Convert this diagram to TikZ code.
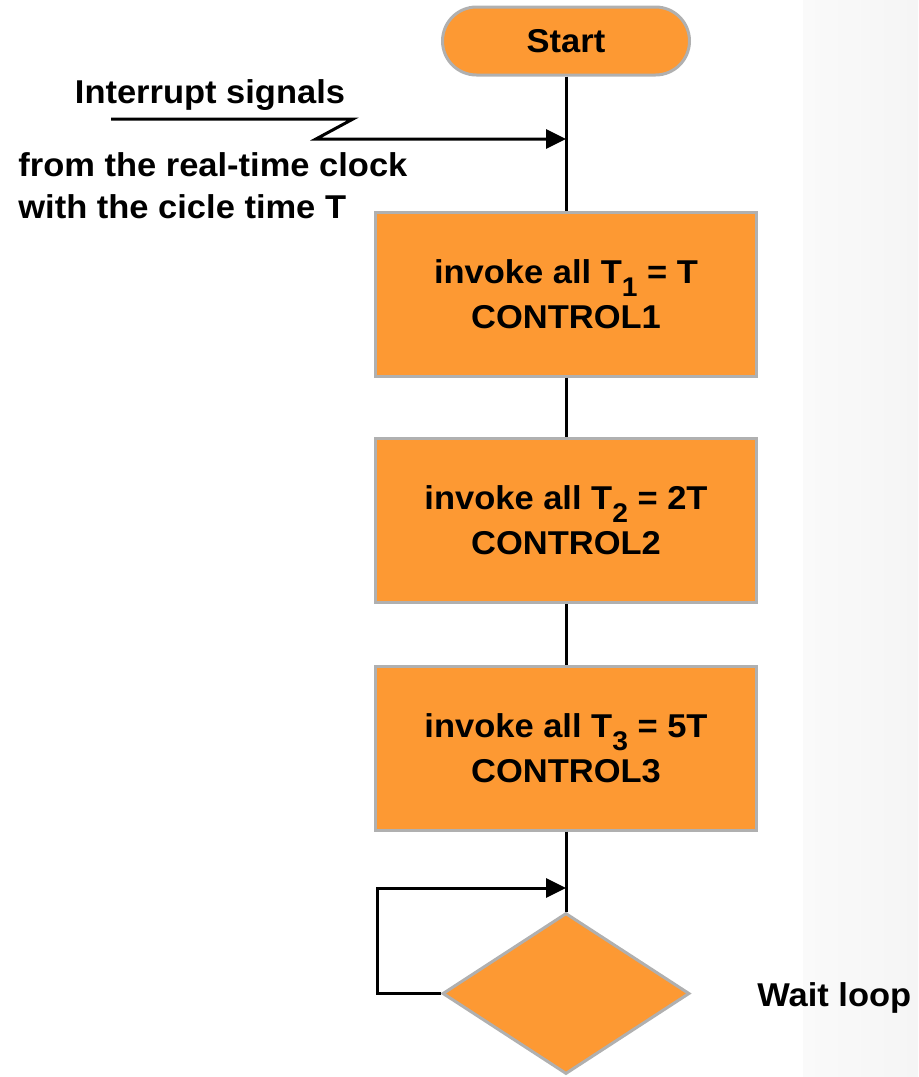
\documentclass[tikz,border=0pt]{standalone}
\usepackage{fontspec}
\setmainfont{Liberation Sans}[FakeStretch=1.045]
\usetikzlibrary{shapes.geometric,arrows.meta}
\definecolor{boxfill}{RGB}{253,153,51}
\definecolor{boxline}{RGB}{176,176,176}
\definecolor{stripleft}{RGB}{250,250,250}
\definecolor{stripright}{RGB}{245,245,245}
\newcommand{\lowsub}[1]{\raisebox{-6.5pt}{\fontsize{13.5}{13.5}\selectfont #1}}
\tikzset{
  txt/.style={font=\bfseries\fontsize{16.5}{21}\selectfont, inner sep=0pt},
  boxtxt/.style={font=\bfseries\fontsize{16.5}{22.5}\selectfont},
  terminal/.style={draw=boxline, line width=1.5pt, fill=boxfill, rounded corners=17pt,
    minimum width=123.5pt, minimum height=34pt, inner sep=0pt, boxtxt},
  procbox/.style={draw=boxline, line width=1.5pt, fill=boxfill,
    minimum width=190.5pt, minimum height=82pt, inner sep=0pt, boxtxt, align=center},
  waitdiamond/.style={diamond, draw=boxline, line width=1.5pt, fill=boxfill,
    minimum width=123.5pt, minimum height=80.5pt, inner sep=0pt},
  flow/.style={draw=black, line width=1.5pt},
  flowarrow/.style={flow, -{Triangle[length=10pt,width=9.5pt]}}
}
\begin{document}
\begin{tikzpicture}[x=0.5pt,y=-0.5pt]
  \useasboundingbox (0,0) rectangle (918,1077);
  % light background strip at the right edge
  \shade[left color=stripleft, right color=stripright, draw=none]
    (803,0) rectangle (918,1077);

  % flow elements
  \node[terminal] (start) at (566,41) {Start};
  \node[procbox] (c1) at (566,294) {invoke all T\lowsub{1} = T\\CONTROL1};
  \node[procbox] (c2) at (566,520.5) {invoke all T\lowsub{2} = 2T\\CONTROL2};
  \node[procbox] (c3) at (566,748) {invoke all T\lowsub{3} = 5T\\CONTROL3};
  \node[waitdiamond] (wait) at (566,993.5) {};

  % main flow line
  \draw[flow] (start.south) -- (c1.north);
  \draw[flow] (c1.south) -- (c2.north);
  \draw[flow] (c2.south) -- (c3.north);
  \draw[flow] (c3.south) -- (wait.north);

  % interrupt signal entering the flow
  \coordinate (irqstart) at (111,119);
  \coordinate (irqin) at (566,139);
  \draw[flowarrow] (irqstart) -- (353,119) -- (316,139) -- (irqin);
  \node[txt, anchor=base] (irqtop) at (210,103) {Interrupt signals};
  \node[txt, anchor=base west] (irqbot1) at (18,176) {from the real-time clock};
  \node[txt, anchor=base west] (irqbot2) at (18,218) {with the cicle time T};

  % wait loop
  \coordinate (loopin) at (566,888);
  \draw[flowarrow] (wait.west) -- (377,993.5) |- (loopin);
  \node[txt, anchor=base west] (waitlbl) at (757,1006) {Wait loop};
\end{tikzpicture}
\end{document}
